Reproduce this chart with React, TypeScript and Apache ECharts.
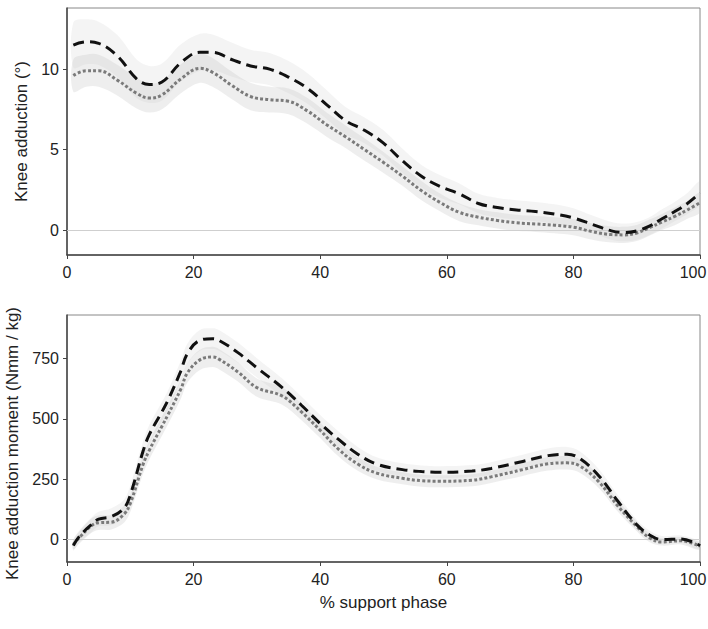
import React, { useEffect, useRef } from "react";
import * as echarts from "echarts";

// ---- Top panel: knee adduction angle (°) ----
const topX = [1, 3, 5, 8, 11, 13, 15, 18, 21, 23, 26, 29, 32, 35, 38, 41, 44, 47, 50, 53, 56, 59, 62, 65, 68, 71, 74, 77, 80, 83, 86, 88, 90, 92, 94, 96, 98, 100];
const topDashed = [11.5, 11.7, 11.6, 10.8, 9.4, 9.05, 9.2, 10.4, 11.05, 11.05, 10.6, 10.2, 10.0, 9.5, 8.8, 7.8, 6.8, 6.2, 5.4, 4.3, 3.35, 2.7, 2.25, 1.65, 1.4, 1.25, 1.15, 1.0, 0.75, 0.35, -0.05, -0.15, -0.05, 0.25, 0.7, 1.15, 1.65, 2.3];
const topDashedSd = [1.4, 1.4, 1.35, 1.3, 1.2, 1.15, 1.15, 1.15, 1.15, 1.1, 1.05, 1.0, 1.0, 1.0, 0.95, 0.9, 0.85, 0.8, 0.8, 0.75, 0.7, 0.7, 0.65, 0.6, 0.6, 0.6, 0.6, 0.6, 0.6, 0.55, 0.55, 0.55, 0.55, 0.55, 0.6, 0.6, 0.65, 0.7];
const topDotted = [9.6, 9.9, 9.9, 9.3, 8.5, 8.2, 8.4, 9.4, 10.05, 9.8, 9.0, 8.3, 8.1, 8.0, 7.4, 6.55, 5.8, 5.0, 4.2, 3.35, 2.45, 1.7, 1.1, 0.8, 0.6, 0.45, 0.38, 0.3, 0.18, -0.1, -0.28, -0.3, -0.18, 0.15, 0.5, 0.85, 1.25, 1.7];
const topDottedSd = [1.0, 1.0, 1.0, 0.95, 0.95, 0.9, 0.9, 0.9, 0.9, 0.9, 0.85, 0.85, 0.8, 0.8, 0.8, 0.75, 0.7, 0.7, 0.65, 0.6, 0.6, 0.55, 0.55, 0.5, 0.5, 0.5, 0.5, 0.5, 0.5, 0.5, 0.5, 0.5, 0.5, 0.5, 0.5, 0.55, 0.55, 0.6];
const topTicks = [0, 5, 10];

// ---- Bottom panel: knee adduction moment (Nmm / kg) ----
const botX = [1, 2, 4, 5, 7, 9, 10, 12, 13, 15, 16, 18, 19, 21, 23, 24, 27, 30, 34, 37, 40, 43, 46, 49, 53, 56, 59, 64, 67, 72, 76, 79, 81, 84, 87, 90, 92, 94, 97, 100];
const botDashed = [-25, 15, 65, 85, 95, 130, 185, 365, 435, 530, 580, 700, 770, 826, 833, 826, 775, 712, 630, 558, 481, 413, 353, 312, 290, 282, 279, 284, 295, 324, 348, 354, 336, 265, 160, 62, 20, 0, 2, -25];
const botDashedSd = [20, 25, 30, 30, 35, 35, 40, 40, 40, 40, 40, 42, 42, 43, 43, 43, 42, 40, 38, 36, 35, 33, 30, 28, 26, 25, 25, 25, 26, 28, 30, 30, 30, 28, 25, 20, 18, 15, 15, 15];
const botDotted = [-20, 10, 60, 70, 72, 105, 150, 310, 370, 470, 520, 625, 690, 745, 757, 748, 695, 630, 595, 530, 453, 372, 312, 275, 254, 244, 242, 246, 260, 290, 314, 318, 305, 240, 140, 55, 8, -10, -5, -28];
const botDottedSd = [20, 25, 30, 30, 30, 35, 35, 38, 38, 40, 40, 40, 40, 42, 42, 42, 40, 38, 36, 34, 32, 30, 28, 26, 25, 25, 25, 25, 25, 26, 28, 28, 28, 26, 24, 20, 18, 15, 15, 15];
const botTicks = [0, 250, 500, 750];

const xMax = 100;
const xTicksInterval = 20;
const FONT = "'Liberation Sans', Arial, Helvetica, sans-serif";

function band(id: string, xs: number[], mean: number[], sd: number[], color: string, idx: number) {
  const rows = xs.map((x, i) => [x, mean[i] - sd[i], mean[i] + sd[i]]);
  return {
    type: "custom",
    name: id,
    xAxisIndex: idx,
    yAxisIndex: idx,
    data: rows,
    encode: { x: 0, y: [1, 2] },
    silent: true,
    clip: true,
    z: 1,
    renderItem: (params: any, api: any) => {
      if (params.dataIndex !== 0) return null;
      const upper = rows.map((r) => api.coord([r[0], r[2]]));
      const lower = rows.map((r) => api.coord([r[0], r[1]])).reverse();
      return {
        type: "polygon",
        shape: { points: upper.concat(lower), smooth: 0.35 },
        style: { fill: color, stroke: "none" },
      };
    },
  };
}

function meanLine(name: string, xs: number[], ys: number[], idx: number, style: any) {
  return {
    type: "line",
    name,
    xAxisIndex: idx,
    yAxisIndex: idx,
    data: xs.map((x, i) => [x, ys[i]]),
    smooth: 0.4,
    symbol: "none",
    lineStyle: style,
    z: 5,
  };
}

function zeroLine(idx: number) {
  return {
    type: "line",
    name: "zero-" + idx,
    xAxisIndex: idx,
    yAxisIndex: idx,
    data: [],
    z: 0,
    markLine: {
      silent: true,
      symbol: "none",
      label: { show: false },
      lineStyle: { color: "#cfcfcf", width: 1.2, type: "solid" },
      data: [{ yAxis: 0 }],
    },
  };
}

const dashedStyle = { color: "#111", width: 3, type: [11, 6], cap: "butt" };
const dottedStyle = { color: "#7a7a7a", width: 3, type: [3, 2.2], cap: "butt" };

export default function App() {
  const ref = useRef<HTMLDivElement>(null);
  useEffect(() => {
    if (!ref.current) return;
    const chart = echarts.init(ref.current, undefined, { renderer: "svg" });
    const axisText = { color: "#222", fontSize: 16, fontFamily: FONT };
    const nameText = { color: "#222", fontSize: 17, fontFamily: FONT };
    const xAxisBase = {
      type: "value",
      min: 0,
      max: xMax,
      interval: xTicksInterval,
      axisLine: { show: true, onZero: false, lineStyle: { color: "#444", width: 1.5 } },
      axisTick: { show: true, length: 4, lineStyle: { color: "#444" } },
      axisLabel: {
        ...axisText,
        margin: 9,
        showMaxLabel: true,
        showMinLabel: true,
        formatter: (v: number) => (v === xMax ? "{last|" + v + "}" : String(v)),
        rich: { last: { ...axisText, padding: [0, 14, 0, 0] } },
      },
      splitLine: { show: false },
    };
    const yAxisBase = {
      type: "value",
      nameLocation: "middle",
      nameRotate: 90,
      axisLine: { show: true, onZero: false, lineStyle: { color: "#444", width: 1.5 } },
      splitLine: { show: false },
    };
    const option: any = {
      animation: false,
      backgroundColor: "#fff",
      grid: [
        { left: 67, top: 8, right: 8, height: 247, show: true, borderColor: "#888", borderWidth: 1, containLabel: false, outerBoundsMode: "none" },
        { left: 67, top: 315, right: 8, height: 247, show: true, borderColor: "#888", borderWidth: 1, containLabel: false, outerBoundsMode: "none" },
      ],
      xAxis: [
        { ...xAxisBase, gridIndex: 0 },
        {
          ...xAxisBase,
          gridIndex: 1,
          name: "% support phase",
          nameLocation: "middle",
          nameGap: 32,
          nameTextStyle: { ...nameText },
        },
      ],
      yAxis: [
        {
          ...yAxisBase,
          gridIndex: 0,
          min: -1.55,
          max: 13.8,
          name: "Knee adduction (°)",
          nameGap: 30,
          nameTextStyle: { ...nameText },
          axisTick: { show: true, length: 4, customValues: topTicks, lineStyle: { color: "#444" } },
          axisLabel: { ...axisText, margin: 8, customValues: topTicks },
        },
        {
          ...yAxisBase,
          gridIndex: 1,
          min: -93,
          max: 931,
          name: "Knee adduction moment (Nmm / kg)",
          nameGap: 30,
          nameTextStyle: { ...nameText, padding: [0, 10, 0, 0] },
          axisTick: { show: true, length: 4, customValues: botTicks, lineStyle: { color: "#444" } },
          axisLabel: { ...axisText, margin: 8, customValues: botTicks },
        },
      ],
      series: [
        zeroLine(0),
        zeroLine(1),
        band("topA", topX, topDashed, topDashedSd, "rgba(200,200,200,0.2)", 0),
        band("topB", topX, topDotted, topDottedSd, "rgba(195,195,195,0.28)", 0),
        band("botA", botX, botDashed, botDashedSd, "rgba(200,200,200,0.2)", 1),
        band("botB", botX, botDotted, botDottedSd, "rgba(195,195,195,0.28)", 1),
        meanLine("Group A angle", topX, topDotted, 0, dottedStyle),
        meanLine("Group B angle", topX, topDashed, 0, dashedStyle),
        meanLine("Group A moment", botX, botDotted, 1, dottedStyle),
        meanLine("Group B moment", botX, botDashed, 1, dashedStyle),
      ],
    };
    chart.setOption(option);
    return () => chart.dispose();
  }, []);
  return (
    <div
      ref={ref}
      style={{ position: "absolute", left: 0, top: 0, width: 708, height: 629, background: "#fff" }}
    />
  );
}
